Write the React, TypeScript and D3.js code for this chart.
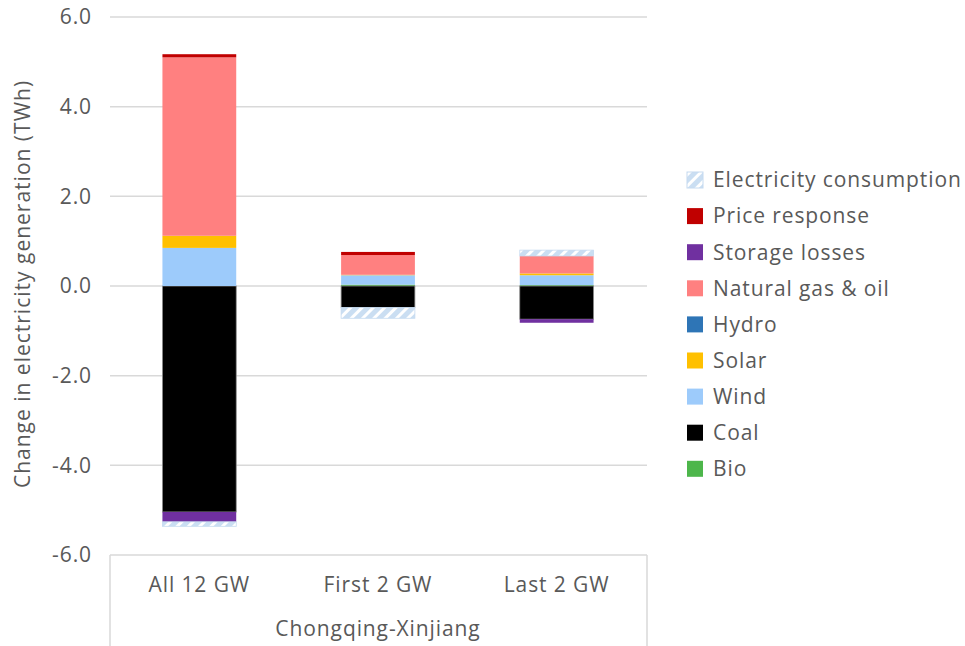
import React from "react";
import * as d3 from "d3";

const categories = ["All 12 GW", "First 2 GW", "Last 2 GW"];
const groupLabel = "Chongqing-Xinjiang";
const yTicks = [-6, -4, -2, 0, 2, 4, 6];

const seriesNames = ["Bio", "Coal", "Wind", "Solar", "Hydro", "Natural gas & oil", "Storage losses", "Price response", "Electricity consumption"];
const bio = [0, 0.03, 0.02];
const coal = [-5.04, -0.48, -0.74];
const wind = [0.85, 0.21, 0.22];
const solar = [0.27, 0.01, 0.04];
const hydro = [0, 0, 0];
const gas = [3.98, 0.44, 0.39];
const storage = [-0.22, 0, -0.08];
const price = [0.07, 0.07, 0];
const consumption = [-0.1, -0.24, 0.13];
const seriesValues = [bio, coal, wind, solar, hydro, gas, storage, price, consumption];
const colors = ["#4db64b", "#000000", "#9dcbfb", "#ffc000", "#2e75b6", "#ff8080", "#7030a0", "#c00000", "url(#hatch)"];

const W = 965, H = 646;
const left = 110, right = 646, top = 17, bottom = 555;
const font = "'Open Sans', sans-serif";
const textColor = "#595959";
const fs = 21;
const ls = 0.9;

export default function App() {
  const y = d3.scaleLinear().domain([-6, 6]).range([bottom, top]);
  const x = d3.scaleBand<string>().domain(categories).range([left, right]).paddingInner(0.587).paddingOuter(0.2935);
  const rows = categories.map((c, i) => {
    const r: any = { cat: c };
    seriesNames.forEach((s, k) => (r[s] = seriesValues[k][i]));
    return r;
  });
  const stacked = d3.stack<any>().keys(seriesNames).offset(d3.stackOffsetDiverging)(rows);
  const legendOrder = seriesNames.map((_, i) => i).reverse();

  return (
    <svg width={W} height={H} style={{ position: "absolute", left: 0, top: 0, background: "#fff" }}>
      <defs>
        <pattern id="hatch" patternUnits="userSpaceOnUse" width="8" height="8" patternTransform="rotate(45)">
          <rect width="8" height="8" fill="#cadef2" />
          <rect x="0" y="0" width="3" height="8" fill="#ffffff" />
        </pattern>
      </defs>
      <rect width={W} height={H} fill="#fff" />
      {yTicks.map((t) => (
        <g key={t}>
          <line x1={left} x2={right + 1} y1={y(t)} y2={y(t)} stroke="#d9d9d9" strokeWidth={1.5} />
          <text x={92} y={y(t)} dy="0.35em" textAnchor="end" fontFamily={font} fontSize={fs} letterSpacing={ls} fill={textColor}>
            {t.toFixed(1)}
          </text>
        </g>
      ))}
      <line x1={left} x2={left} y1={bottom} y2={H} stroke="#d9d9d9" strokeWidth={1.5} />
      <line x1={right + 1} x2={right + 1} y1={bottom} y2={H} stroke="#d9d9d9" strokeWidth={1.5} />
      {stacked.map((layer, k) =>
        layer.map((d, i) => {
          const y0 = Math.min(y(d[0]), y(d[1]));
          const h = Math.abs(y(d[0]) - y(d[1]));
          if (h < 0.01) return null;
          const isHatch = k === 8;
          const isCoal = k === 1;
          return (
            <rect
              key={`${k}-${i}`}
              x={x(categories[i])}
              width={x.bandwidth()}
              y={y0}
              height={h}
              fill={colors[k]}
              stroke={isHatch ? "#c5daf0" : isCoal ? "#8c8c8c" : "none"}
              strokeWidth={isHatch || isCoal ? 0.8 : 0}
            />
          );
        })
      )}
      {categories.map((c) => (
        <text key={c} x={(x(c) as number) + x.bandwidth() / 2} y={585} dy="0.35em" textAnchor="middle" fontFamily={font} fontSize={fs} letterSpacing={ls} fill={textColor}>
          {c}
        </text>
      ))}
      <text x={(left + right) / 2} y={629} dy="0.35em" textAnchor="middle" fontFamily={font} fontSize={fs} letterSpacing={ls} fill={textColor}>
        {groupLabel}
      </text>
      <text transform={`translate(23,${284}) rotate(-90)`} dy="0.35em" textAnchor="middle" fontFamily={font} fontSize={fs} letterSpacing={1.0} fill={textColor}>
        Change in electricity generation (TWh)
      </text>
      {legendOrder.map((k, j) => {
        const cy = 180 + j * 36.1;
        return (
          <g key={seriesNames[k]}>
            <rect x={687} y={cy - 8} width={16} height={16} fill={colors[k]} stroke={k === 8 ? "#c5daf0" : "none"} />
            <text x={713} y={cy} dy="0.35em" fontFamily={font} fontSize={fs} letterSpacing={ls} fill={textColor}>
              {seriesNames[k]}
            </text>
          </g>
        );
      })}
    </svg>
  );
}
